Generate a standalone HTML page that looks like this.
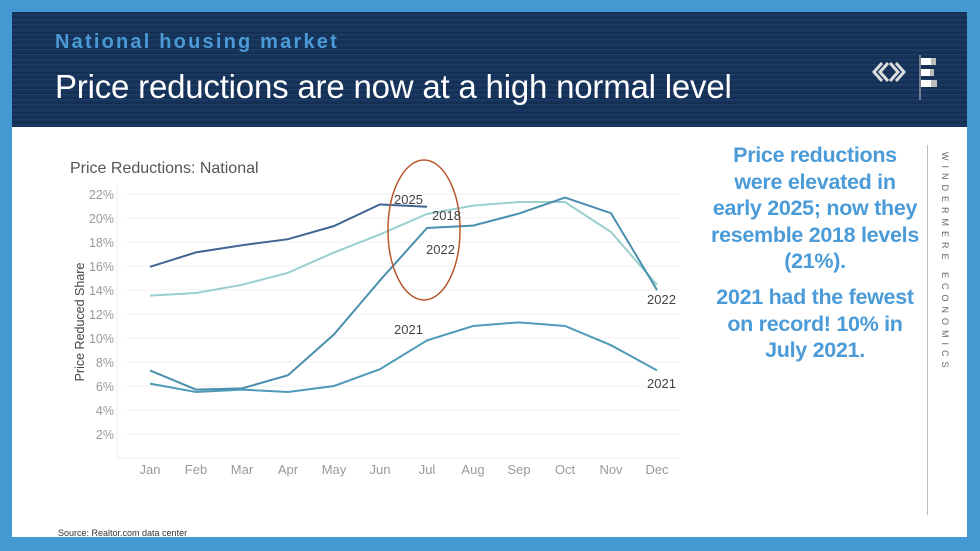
<!DOCTYPE html>
<html><head><style>
body{margin:0;width:980px;height:551px;background:#4499d2;position:relative;overflow:hidden;font-family:"Liberation Sans",sans-serif}
#w{position:absolute;left:12px;top:12px;width:955px;height:525px;background:#fff}
#h{position:absolute;left:12px;top:12px;width:955px;height:115px;background:repeating-linear-gradient(0deg,#17355c 0 2px,#1c3e68 2px 3px,#152f52 3px 5px)}
.sub{position:absolute;left:55px;top:31px;color:#4a9ad6;font-size:20px;font-weight:bold;letter-spacing:2.2px}
.tit{position:absolute;left:55px;top:68px;color:#fff;font-size:33px;letter-spacing:-0.2px}
.side{position:absolute;left:690px;width:250px;text-align:center;color:#4a9bd8;font-weight:bold;font-size:21.5px;line-height:26.5px;letter-spacing:-0.3px}
.vert{position:absolute;left:940px;top:152px;writing-mode:vertical-rl;font-size:9px;letter-spacing:5px;color:#666}
</style></head><body>
<div id="w"></div><div id="h"></div>
<div class="sub">National housing market</div>
<div class="tit">Price reductions are now at a high normal level</div>
<svg style="position:absolute;left:870px;top:55px" width="100" height="45">
<path d="M12 8 L4 17 L12 26 M18 8 L10 17 L18 26 M20 8 L28 17 L20 26 M26 8 L34 17 L26 26" stroke="#ddd" stroke-width="3" fill="none"/>
<line x1="50" y1="0" x2="50" y2="45" stroke="#ccc" stroke-width="1"/>
<rect x="51" y="3" width="10" height="7" fill="#fff"/><rect x="61" y="3" width="5" height="7" fill="#bbb"/>
<rect x="51" y="14" width="9" height="7" fill="#fff"/><rect x="60" y="14" width="4" height="7" fill="#bbb"/>
<rect x="51" y="25" width="10" height="7" fill="#fff"/><rect x="61" y="25" width="6" height="7" fill="#bbb"/>
</svg>
<div class="side" style="top:142px">Price reductions<br>were elevated in<br>early 2025; now they<br>resemble 2018 levels<br>(21%).</div>
<div class="side" style="top:284px">2021 had the fewest<br>on record! 10% in<br>July 2021.</div>
<div style="position:absolute;left:927px;top:145px;width:1px;height:370px;background:#bbb"></div>
<div class="vert">WINDERMERE ECONOMICS</div>
<div style="position:absolute;left:58px;top:528px;font-size:9px;color:#333">Source: Realtor.com data center</div>
<svg style="position:absolute;left:0;top:0" width="980" height="551" font-family="Liberation Sans,sans-serif">
<text x="70" y="173" font-size="16" fill="#555">Price Reductions: National</text>
<g stroke="#f0f0f0" stroke-width="1">
<line x1="125" y1="194" x2="680" y2="194"/><line x1="125" y1="218" x2="680" y2="218"/><line x1="125" y1="242" x2="680" y2="242"/><line x1="125" y1="266" x2="680" y2="266"/><line x1="125" y1="290" x2="680" y2="290"/><line x1="125" y1="314" x2="680" y2="314"/><line x1="125" y1="338" x2="680" y2="338"/><line x1="125" y1="362" x2="680" y2="362"/><line x1="125" y1="386" x2="680" y2="386"/><line x1="125" y1="410" x2="680" y2="410"/><line x1="125" y1="434" x2="680" y2="434"/>
</g>
<line x1="117" y1="185" x2="117" y2="458" stroke="#eee"/>
<line x1="117" y1="458" x2="680" y2="458" stroke="#eee"/>
<g font-size="12.5" fill="#999" text-anchor="end">
<text x="114" y="199">22%</text><text x="114" y="223">20%</text><text x="114" y="247">18%</text><text x="114" y="271">16%</text><text x="114" y="295">14%</text><text x="114" y="319">12%</text><text x="114" y="343">10%</text><text x="114" y="367">8%</text><text x="114" y="391">6%</text><text x="114" y="415">4%</text><text x="114" y="439">2%</text>
</g>
<text transform="translate(84,322) rotate(-90)" font-size="12.5" fill="#444" text-anchor="middle">Price Reduced Share</text>
<g font-size="13" fill="#999" text-anchor="middle">
<text x="150" y="474">Jan</text><text x="196" y="474">Feb</text><text x="242" y="474">Mar</text><text x="288" y="474">Apr</text><text x="334" y="474">May</text><text x="380" y="474">Jun</text><text x="427" y="474">Jul</text><text x="473" y="474">Aug</text><text x="519" y="474">Sep</text><text x="565" y="474">Oct</text><text x="611" y="474">Nov</text><text x="657" y="474">Dec</text>
</g>
<g fill="none" stroke-width="2">
<polyline stroke="#9bcfcf" points="150,295.6 196,293 242,284.8 288,272.8 334,252.4 380,234.4 427,214 473,205.6 519,202 565,202 611,232 657,284.8"/>
<polyline stroke="#4a8fae" points="150,370.4 196,389.6 242,388.4 288,375.2 334,334.4 380,280.4 427,228 473,225.6 519,213.6 565,197.6 611,213.2 657,290"/>
<polyline stroke="#4f9ab8" points="150,383.6 196,392 242,389.6 288,392 334,386 380,369.2 427,340.4 473,326 519,322.4 565,326 611,345.2 657,370.4"/>
<polyline stroke="#3f6690" points="150,266.8 196,252.4 242,245.2 288,239.2 334,226 380,204.4 427,206.8"/>
</g>
<ellipse cx="424" cy="230" rx="36" ry="70" fill="none" stroke="#b8582c" stroke-width="1.5"/>
<g font-size="13" fill="#444">
<text x="394" y="204">2025</text><text x="432" y="220">2018</text><text x="426" y="254">2022</text><text x="394" y="334">2021</text><text x="647" y="304">2022</text><text x="647" y="388">2021</text>
</g>
</svg>
</body></html>
